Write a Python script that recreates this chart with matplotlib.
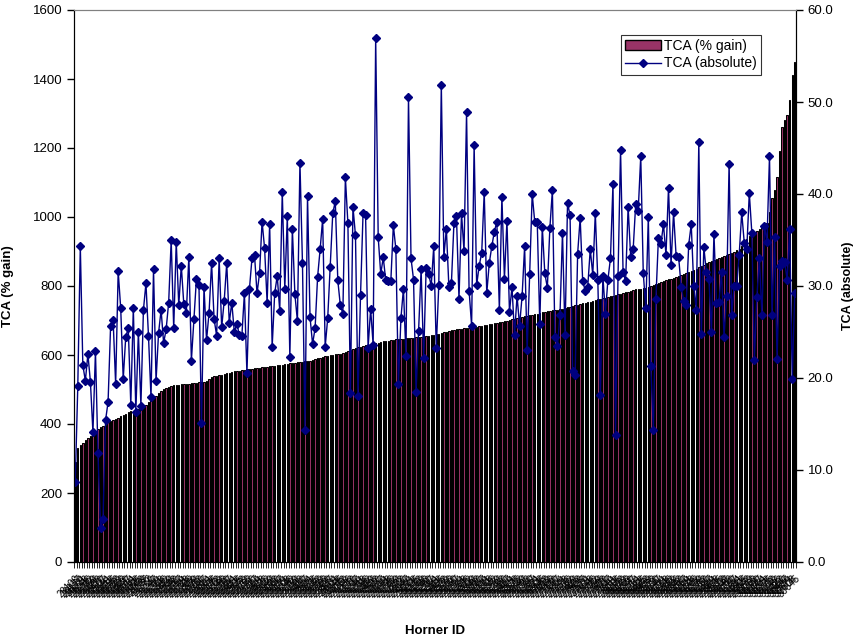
import numpy as np
import matplotlib
matplotlib.use("Agg")
import matplotlib.pyplot as plt
from matplotlib.lines import Line2D
from matplotlib.patches import Patch

plt.rcParams['font.family'] = ['Liberation Sans', 'DejaVu Sans']

# TCA (% gain), sorted ascending
tca_gain = [
    290, 330, 338, 345, 355, 360, 365, 372, 380, 385,
    390, 393, 398, 405, 408, 411, 415, 418, 422, 426,
    430, 434, 437, 439, 441, 444, 447, 450, 456, 463,
    470, 476, 482, 490, 497, 502, 505, 508, 510, 512,
    513, 514, 515, 516, 516, 517, 518, 519, 520, 521,
    522, 523, 525, 530, 535, 538, 540, 542, 543, 545,
    547, 549, 551, 553, 554, 555, 556, 557, 558, 559,
    560, 561, 562, 563, 564, 565, 566, 567, 568, 569,
    570, 571, 572, 573, 574, 576, 577, 578, 579, 580,
    581, 582, 583, 584, 586, 588, 590, 592, 594, 596,
    598, 600, 601, 602, 603, 604, 605, 608, 611, 614,
    617, 620, 622, 624, 626, 628, 630, 631, 632, 634,
    636, 638, 640, 641, 642, 643, 644, 645, 646, 647,
    647, 648, 648, 649, 650, 651, 652, 653, 654, 655,
    656, 657, 658, 660, 662, 664, 666, 668, 670, 672,
    673, 674, 675, 676, 677, 678, 679, 680, 681, 682,
    683, 684, 686, 688, 690, 691, 693, 694, 695, 697,
    698, 700, 701, 703, 704, 706, 708, 710, 712, 714,
    716, 717, 718, 720, 722, 724, 726, 727, 728, 729,
    730, 731, 732, 734, 736, 738, 740, 742, 744, 746,
    748, 750, 751, 753, 755, 757, 759, 761, 763, 765,
    766, 768, 770, 772, 774, 776, 778, 780, 782, 784,
    786, 788, 790, 791, 792, 793, 795, 797, 800, 803,
    806, 809, 812, 815, 817, 819, 821, 823, 826, 829,
    832, 835, 838, 841, 844, 847, 850, 854, 858, 862,
    866, 869, 872, 875, 878, 881, 884, 886, 889, 892,
    896, 900, 904, 908, 915, 925, 935, 945, 953, 957,
    960, 964, 970, 976, 982, 1015, 1054, 1078, 1117, 1190,
    1262, 1281, 1296, 1339, 1412, 1450,
]

# TCA (absolute), same order as the bars
tca_abs = [
    8.7, 19.1, 34.3, 21.4, 19.7, 22.6, 19.6, 14.1, 22.9, 11.8,
    3.7, 4.7, 15.4, 17.4, 25.7, 26.3, 19.3, 31.6, 27.6, 19.9,
    24.5, 25.4, 17.1, 27.6, 16.3, 25.0, 17.0, 27.4, 30.3, 24.6,
    17.9, 31.8, 19.7, 24.9, 27.4, 23.8, 25.3, 28.2, 35.0, 25.4,
    34.8, 27.9, 32.2, 28.0, 27.1, 33.2, 21.9, 26.4,
    30.8, 30.1, 15.1, 29.9, 24.1, 27.1, 32.5, 26.4, 24.6, 33.0,
    25.5, 28.4, 32.5, 26.0, 28.2, 25.0, 25.9, 24.7, 24.6, 29.2,
    20.5, 29.7, 33.0, 33.4, 29.2, 31.4, 37.0, 34.1, 28.2, 36.7,
    23.4, 29.2, 31.1, 27.3, 40.2, 29.7, 37.6, 22.3, 36.2, 29.1,
    26.2, 43.4, 32.5, 14.4, 39.8, 26.6, 23.7, 25.4,
    31.0, 34.0, 37.3, 23.4, 26.5, 32.1, 37.9, 39.2, 30.6, 27.9,
    27.0, 41.8, 36.8, 18.4, 38.6, 35.5, 18.0, 29.0, 37.9, 37.7,
    23.3, 27.5, 23.6, 57.0, 35.3, 31.3, 33.1, 30.6, 30.5, 30.5,
    36.6, 34.0, 19.3, 26.5, 29.7, 22.4, 50.5, 33.0, 30.7, 18.5,
    25.1, 31.8, 22.2, 32.0, 31.3, 30.0, 34.3, 23.3,
    30.1, 51.9, 33.2, 36.2, 29.9, 30.3, 36.8, 37.6, 28.6, 37.9,
    33.8, 48.9, 29.5, 25.7, 45.3, 30.1, 32.2, 33.6, 40.2, 29.2,
    32.5, 34.3, 35.9, 37.0, 27.4, 39.7, 30.8, 37.1, 27.2, 29.9,
    24.7, 28.9, 25.7, 28.9, 34.3, 23.0, 31.3, 40.0, 37.0, 37.0,
    25.9, 36.4, 31.4, 29.8, 36.3, 40.4, 24.5,
    23.5, 26.8, 35.8, 24.7, 39.0, 37.7, 20.8, 20.3, 33.5, 37.4,
    30.5, 29.5, 29.9, 34.0, 31.2, 37.9, 30.6, 18.1, 31.1, 27.0,
    30.7, 33.0, 41.1, 13.8, 31.1, 44.8, 31.5, 30.5, 38.6, 33.2,
    34.0, 38.9, 38.2, 44.1, 31.4, 27.6, 37.5, 21.3, 14.3, 28.6,
    35.2, 34.6, 36.7, 33.4, 40.7, 32.3, 38.0,
    33.3, 33.2, 29.9, 28.4, 27.9, 34.5, 36.7, 30.0, 27.4, 45.6,
    24.8, 34.2, 31.5, 30.8, 25.0, 35.7, 28.1, 28.3, 31.5, 24.5,
    28.9, 43.3, 26.8, 30.0, 30.0, 33.4, 38.0, 34.7, 34.0, 40.1,
    35.8, 22.0, 28.8, 33.0, 26.8, 36.5, 34.8, 44.1, 26.8, 35.3,
    22.1, 32.2, 32.7, 32.6, 30.7, 36.2, 19.9, 29.2,
]

# Horner IDs are illegible in the source; placeholder IDs
horner_ids = [str(20100 + 37 * k) for k in range(len(tca_gain))]

x = np.arange(len(tca_gain))

fig = plt.figure(figsize=(8.56, 6.36), dpi=100)
ax = fig.add_axes([74 / 856, 1 - 562 / 636, 722 / 856, 552 / 636])

ax.bar(x, tca_gain, width=0.55, color='#993366', edgecolor='black', linewidth=0.75)
ax.set_xlim(-0.5, len(x) - 0.5)
ax.set_ylim(0, 1600)
ax.set_yticks(np.arange(0, 1601, 200))
ax.tick_params(axis='y', direction='out', length=5, labelsize=9.5, width=1)
ax.set_ylabel('TCA (% gain)', fontsize=9.5, fontweight='bold')
ax.yaxis.set_label_coords(-0.083, 0.5)

ax.set_xticks(x)
ax.set_xticklabels(horner_ids, rotation=45, ha='right', va='top',
                   rotation_mode='anchor', fontsize=7)
ax.set_xticks(np.arange(-0.5, len(x), 1), minor=True)
ax.tick_params(axis='x', which='major', length=0, pad=8)
ax.tick_params(axis='x', which='minor', length=4, width=0.6)
ax.set_xlabel('Horner ID', fontsize=9.5, fontweight='bold')
ax.xaxis.set_label_coords(0.5, -0.114)

ax2 = ax.twinx()
ax2.plot(x, tca_abs, color='#000080', linewidth=1, marker='D', markersize=4)
ax2.set_ylim(0, 60)
ax2.set_yticks(np.arange(0, 61, 10))
ax2.set_yticklabels([f'{v:.1f}' for v in np.arange(0, 61, 10)])
ax2.tick_params(axis='y', direction='out', length=5, labelsize=9.5, width=1)
ax2.set_ylabel('TCA (absolute)', fontsize=9, fontweight='bold')
ax2.yaxis.set_label_coords(1.064, 0.5)

for a in (ax, ax2):
    a.spines['top'].set_color('#808080')
    a.spines['left'].set_color('black')
    a.spines['right'].set_color('black')
    a.spines['bottom'].set_color('black')

handles = [Patch(facecolor='#993366', edgecolor='black', linewidth=1),
           Line2D([0], [0], color='#000080', linewidth=1, marker='D', markersize=4)]
leg = ax2.legend(handles, ['TCA (% gain)', 'TCA (absolute)'], loc='upper left',
                 bbox_to_anchor=(0.757, 0.955), fontsize=10, frameon=True, fancybox=False,
                 borderpad=0.3, labelspacing=0.25, handlelength=2.6, handletextpad=0.2,
                 borderaxespad=0)
leg.get_frame().set_edgecolor('black')
leg.get_frame().set_linewidth(0.8)

fig.savefig('out.png', dpi=100)
